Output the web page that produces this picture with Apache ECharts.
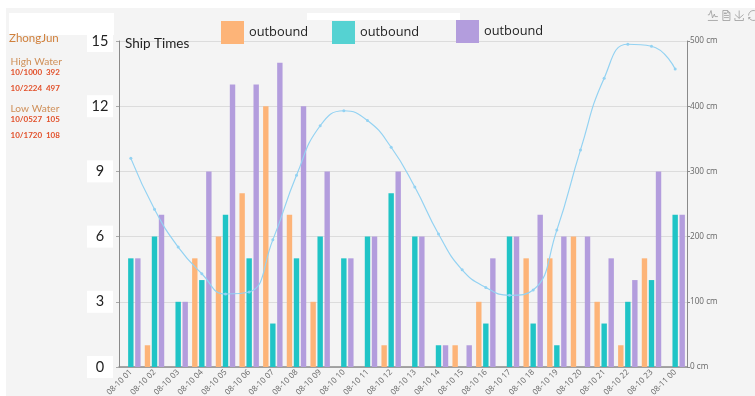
<!DOCTYPE html>
<html>
<head>
<meta charset="utf-8">
<style>html,body{margin:0;padding:0;background:#fff}#chart{width:755px;height:396px}</style>
<script src="https://cdn.jsdelivr.net/npm/echarts@6/dist/echarts.min.js"></script>
</head>
<body>
<div id="chart"></div>
<script>
// Hourly ship movements at the ZhongJun station, with the tide level on a second axis.
const hours = ['08-10 01','08-10 02','08-10 03','08-10 04','08-10 05','08-10 06','08-10 07','08-10 08','08-10 09','08-10 10','08-10 11','08-10 12','08-10 13','08-10 14','08-10 15','08-10 16','08-10 17','08-10 18','08-10 19','08-10 20','08-10 21','08-10 22','08-10 23','08-11 00'];
const orangeShips = [0,1,0,5,6,8,12,7,3,0,0,1,0,0,1,3,0,5,5,6,3,1,5,0];
const tealShips = [5,6,3,4,7,5,2,5,6,5,6,8,6,1,0,2,6,2,1,0,2,3,4,7];
const purpleShips = [5,7,3,9,13,13,14,12,9,5,6,9,6,1,1,5,6,7,6,6,5,4,9,7];
const waterLevel = [320,242,184,143,112,115,195,294,370,393,378,337,276,204,149,122,110,118,210,333,443,495,492,457];
const seriesName = 'outbound';
const colors = { orange: '#fdb478', teal: '#20c4c6', tealKey: '#55d2d2', purple: '#b39ddd', line: '#93d2f2' };

const tideNotes = [
  { text: 'ZhongJun', x: 9, y: 38, size: 11.5, weight: 'normal', color: '#d0803c' },
  { text: 'High Water', x: 10.5, y: 62, size: 10.2, weight: 'normal', color: '#cf8f58' },
  { text: '10/1000  392', x: 10.5, y: 72.5, size: 8, weight: 'bold', color: '#e2502a' },
  { text: '10/2224  497', x: 10.5, y: 88, size: 8, weight: 'bold', color: '#e2502a' },
  { text: 'Low Water', x: 10.5, y: 109, size: 10.2, weight: 'normal', color: '#cf8f58' },
  { text: '10/0527  105', x: 10.5, y: 119.5, size: 8, weight: 'bold', color: '#e2502a' },
  { text: '10/1720  108', x: 10.5, y: 135, size: 8, weight: 'bold', color: '#e2502a' }
];

const legendSpots = [
  { left: 221, top: 21, color: colors.orange },
  { left: 332, top: 21, color: colors.tealKey },
  { left: 456, top: 20, color: colors.purple }
];

const chart = echarts.init(document.getElementById('chart'), null, { renderer: 'canvas' });

const barSeries = (values, color) => ({
  name: seriesName,
  type: 'bar',
  yAxisIndex: 0,
  barWidth: 5.4,
  barGap: '30%',
  itemStyle: { color },
  data: values
});

chart.setOption({
  animation: false,
  backgroundColor: '#fff',
  title: {
    text: 'Ship Times',
    left: 125,
    top: 37,
    padding: 0,
    textStyle: { fontFamily: 'Lato', fontSize: 13.5, fontWeight: 'normal', color: '#222' }
  },
  toolbox: {
    right: -21,
    top: -7,
    itemSize: 10,
    itemGap: 0,
    iconStyle: { borderColor: '#9a9a9a', borderWidth: 0.8 },
    feature: {
      magicType: { type: ['line'] },
      dataView: {},
      saveAsImage: {},
      restore: {}
    }
  },
  legend: legendSpots.map(spot => ({
    left: spot.left,
    top: spot.top,
    padding: 0,
    itemWidth: 23,
    itemHeight: 23,
    itemGap: 5,
    selectedMode: false,
    icon: 'rect',
    textStyle: { fontFamily: 'Open Sans', fontSize: 12.8, color: '#222', padding: [2, 0, 0, 0] },
    data: [{ name: seriesName, icon: 'rect', itemStyle: { color: spot.color } }]
  })),
  grid: { left: 119, right: 68, top: 41, bottom: 29, outerBoundsMode: 'none' },
  xAxis: {
    type: 'category',
    data: hours,
    axisLine: { lineStyle: { color: '#8a8a8a', width: 1.5 } },
    axisTick: { alignWithLabel: false, length: 3, lineStyle: { color: '#8a8a8a' } },
    axisLabel: { interval: 0, rotate: 45, fontSize: 8, margin: 4, color: '#666', fontFamily: 'Open Sans' }
  },
  yAxis: [
    {
      type: 'value',
      min: 0,
      max: 15,
      interval: 3,
      axisLine: { show: true, lineStyle: { color: '#8a8a8a' } },
      axisTick: { show: true, length: 3, lineStyle: { color: '#aaa' } },
      splitLine: { lineStyle: { color: '#dcdcdc' } },
      axisLabel: {
        fontSize: 14.5,
        color: '#222',
        fontFamily: 'Lato',
        margin: 19,
        align: 'center',
        width: 26,
        height: 22,
        lineHeight: 22,
        backgroundColor: '#fff'
      }
    },
    {
      type: 'value',
      min: 0,
      max: 500,
      interval: 100,
      position: 'right',
      axisLine: { show: true, lineStyle: { color: '#8a8a8a' } },
      axisTick: { show: true, length: 3, lineStyle: { color: '#8a8a8a' } },
      splitLine: { show: false },
      axisLabel: { formatter: '{value} cm', fontSize: 8.2, margin: 3, color: '#666', fontFamily: 'Open Sans' }
    }
  ],
  series: [
    barSeries(orangeShips, colors.orange),
    barSeries(tealShips, colors.teal),
    barSeries(purpleShips, colors.purple),
    {
      name: 'tide',
      type: 'line',
      yAxisIndex: 1,
      smooth: true,
      symbol: 'circle',
      symbolSize: 3,
      z: 5,
      lineStyle: { color: colors.line, width: 1.2 },
      itemStyle: { color: colors.line },
      data: waterLevel
    }
  ],
  graphic: [
    { type: 'rect', z: -10, silent: true, shape: { x: 6, y: 8, width: 749, height: 388 }, style: { fill: '#f4f4f4' } },
    { type: 'rect', z: -9, silent: true, shape: { x: 9, y: 13, width: 105, height: 22 }, style: { fill: '#fff' } },
    { type: 'rect', z: -9, silent: true, shape: { x: 307, y: 13, width: 153, height: 7 }, style: { fill: '#fff' } },
    ...tideNotes.map(note => ({
      type: 'text',
      z: 10,
      silent: true,
      x: note.x,
      y: note.y,
      style: {
        text: note.text,
        fill: note.color,
        fontFamily: 'Lato',
        fontSize: note.size,
        fontWeight: note.weight,
        verticalAlign: 'middle'
      }
    }))
  ]
});
</script>
</body>
</html>
